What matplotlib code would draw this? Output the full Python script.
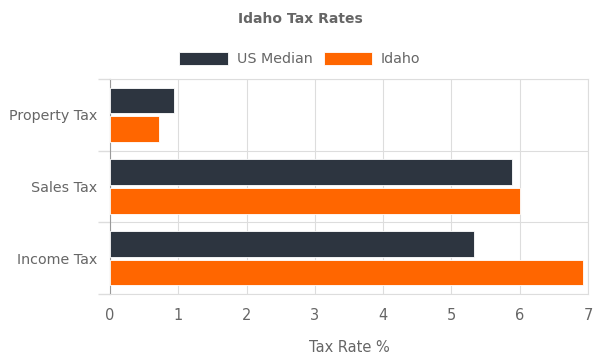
import matplotlib.pyplot as plt
import numpy as np

# data
categories = ['Income Tax', 'Sales Tax', 'Property Tax']
us_median = [5.33, 5.88, 0.94]
idaho = [6.93, 6.00, 0.72]

dark = '#2d3540'
orange = '#ff6600'
txt = '#666666'
grid = '#dddddd'

fig = plt.figure(figsize=(6, 3.64), dpi=100)
ax = fig.add_axes([110/600, 1 - 294/364, 478/600, 215/364])

y = np.arange(len(categories))
h = 0.36
ax.barh(y + 0.2, us_median, height=h, color=dark, edgecolor='white', linewidth=0.6, label='US Median', zorder=3)
ax.barh(y - 0.2, idaho, height=h, color=orange, edgecolor='white', linewidth=0.6, label='Idaho', zorder=3)

ax.set_xlim(0, 7)
ax.set_ylim(-0.5, 2.5)
ax.set_xticks(range(8))
ax.set_yticks(y)
ax.set_yticklabels(categories)
ax.set_yticks([-0.5, 0.5, 1.5, 2.5], minor=True)
ax.tick_params(axis='y', which='major', length=0, pad=9.5, labelsize=10.3, labelcolor=txt)
ax.tick_params(axis='y', which='minor', length=9, color=grid, width=1)
ax.tick_params(axis='x', length=0, pad=10, labelsize=10.5, labelcolor=txt)
ax.grid(axis='x', color=grid, linewidth=0.8, zorder=0)
ax.grid(axis='y', which='minor', color=grid, linewidth=0.8, zorder=0)

for s in ['top', 'right', 'bottom']:
    ax.spines[s].set_color(grid)
ax.spines['left'].set_color('#999999')

ax.set_xlabel('Tax Rate %', color=txt, fontsize=10.5, labelpad=12)

fig.suptitle('Idaho Tax Rates', x=0.5, y=1 - 19/364, va='center', fontsize=10,
             fontweight='bold', color=txt)
leg = fig.legend(loc='center', bbox_to_anchor=(0.5, 1 - 59/364), ncol=2, frameon=False,
                 handlelength=3.4, handleheight=1.0, columnspacing=0.8, handletextpad=0.6,
                 fontsize=10.3)
for t in leg.get_texts():
    t.set_color(txt)

fig.savefig('out.png', dpi=100)
